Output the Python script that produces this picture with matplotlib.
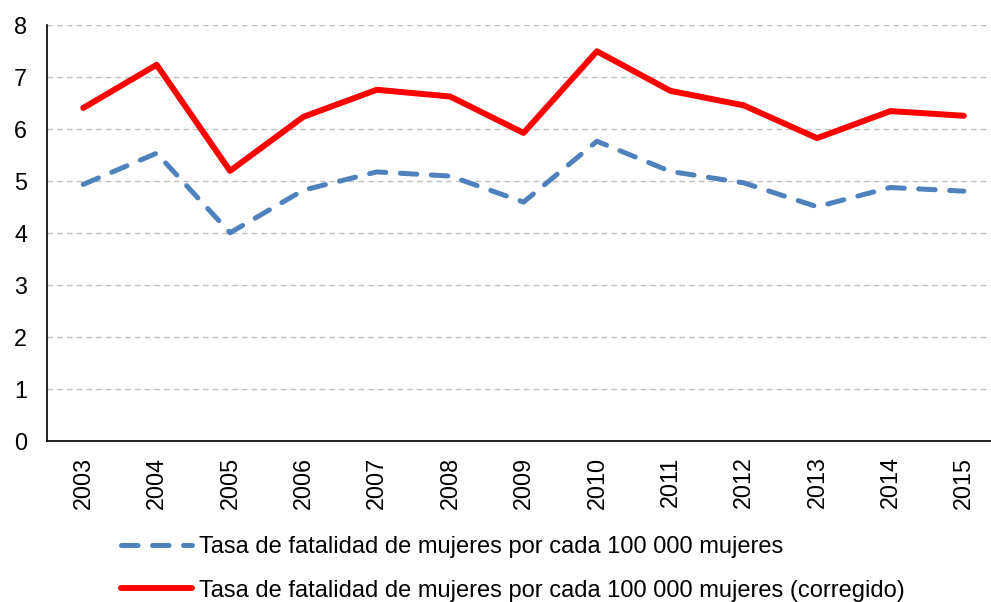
import matplotlib
matplotlib.use("Agg")
import matplotlib.pyplot as plt

plt.rcParams['font.family'] = ['Liberation Sans', 'DejaVu Sans']

years = ["2003", "2004", "2005", "2006", "2007", "2008", "2009",
         "2010", "2011", "2012", "2013", "2014", "2015"]
tasa = [4.94, 5.54, 4.01, 4.83, 5.18, 5.10, 4.60, 5.77, 5.19, 4.97, 4.51, 4.88, 4.81]
tasa_corr = [6.41, 7.24, 5.20, 6.24, 6.76, 6.63, 5.93, 7.50, 6.74, 6.46, 5.83, 6.35, 6.26]
label_1 = "Tasa de fatalidad de mujeres por cada 100 000 mujeres"
label_2 = "Tasa de fatalidad de mujeres por cada 100 000 mujeres (corregido)"

fig = plt.figure(figsize=(9.91, 6.02), dpi=100)
ax = fig.add_axes([0.047, 0.267, 0.953, 0.691])

x = list(range(len(years)))
l1, = ax.plot(x, tasa, color='#4F81BD', lw=3.6, dashes=(3.3, 2.9),
              dash_capstyle='round', solid_capstyle='round', label=label_1)
l2, = ax.plot(x, tasa_corr, color='#FF0000', lw=4.3, solid_capstyle='round',
              label=label_2)

ax.set_ylim(0, 8)
ax.set_yticks(range(0, 9))
ax.set_xlim(-0.5, 12.37)
ax.set_xticks(x)
ax.set_xticklabels(years, rotation=90)
ax.tick_params(axis='both', length=0, labelsize=16.8, colors='black')
ax.tick_params(axis='y', pad=14)
ax.tick_params(axis='x', pad=11)
ax.yaxis.grid(True, color='#BFBFBF', linestyle=(0, (4, 3)), lw=1)
ax.set_axisbelow(True)
for s in ['top', 'right']:
    ax.spines[s].set_visible(False)
for s in ['left', 'bottom']:
    ax.spines[s].set_color('black')
    ax.spines[s].set_linewidth(1.2)

fig.legend(handles=[l1, l2], loc='center left',
           bbox_to_anchor=(0.113, 0.055), frameon=False, fontsize=17,
           handlelength=3.0, handletextpad=0.3, labelspacing=0.9,
           borderaxespad=0)

fig.savefig("out.png", dpi=100)
